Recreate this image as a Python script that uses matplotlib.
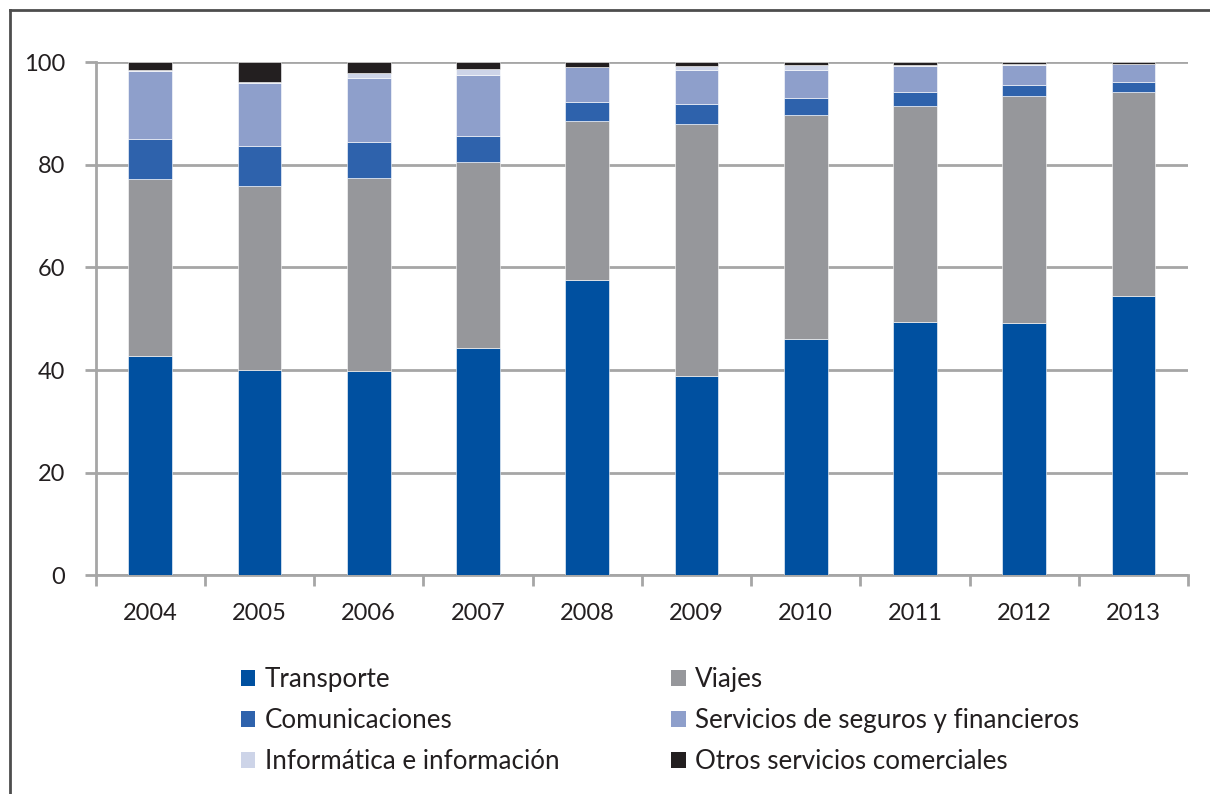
import matplotlib
matplotlib.use("Agg")
import matplotlib.pyplot as plt
from matplotlib.patches import Patch
from matplotlib.lines import Line2D
import numpy as np

years = ["2004", "2005", "2006", "2007", "2008", "2009", "2010", "2011", "2012", "2013"]

transporte = [42.8, 40.0, 39.9, 44.3, 57.6, 38.8, 46.1, 49.4, 49.1, 54.5]
viajes = [34.5, 35.9, 37.6, 36.3, 30.9, 49.2, 43.6, 42.1, 44.3, 39.7]
comunicaciones = [7.8, 7.8, 7.0, 5.0, 3.7, 3.9, 3.3, 2.7, 2.2, 1.9]
seguros_financieros = [13.1, 12.3, 12.4, 11.9, 6.8, 6.5, 5.4, 5.1, 3.9, 3.6]
informatica = [0.3, 0.2, 1.0, 1.1, 0.1, 0.9, 1.0, 0.1, 0.1, 0.0]
otros = [1.5, 3.8, 2.1, 1.4, 0.9, 0.7, 0.6, 0.6, 0.4, 0.3]

series = [
    ("Transporte", transporte, "#0050A0"),
    ("Viajes", viajes, "#96979B"),
    ("Comunicaciones", comunicaciones, "#2E62AC"),
    ("Servicios de seguros y financieros", seguros_financieros, "#8E9FCB"),
    ("Informática e información", informatica, "#CDD4E8"),
    ("Otros servicios comerciales", otros, "#231F20"),
]

FONT = "Lato"
TEXT = "#231F20"
GRID = "#A6A6A6"

fig = plt.figure(figsize=(12.10, 7.94), dpi=100)
ax = fig.add_axes([0.0791, 0.2753, 0.9027, 0.6466])

x = np.arange(len(years))
bottom = np.zeros(len(years))
for name, vals, color in series:
    vals = np.array(vals)
    ax.bar(x, vals, width=0.40, bottom=bottom, color=color,
           edgecolor="white", linewidth=0.4, zorder=3, label=name)
    bottom += vals

ax.set_xlim(-0.5, len(years) - 0.5)
ax.set_ylim(0, 100)
ax.set_yticks([0, 20, 40, 60, 80, 100])
ax.yaxis.grid(True, color=GRID, linewidth=2.0, zorder=0)
ax.set_axisbelow(True)

# category labels centred, tick marks on category boundaries
ax.set_xticks(x)
ax.set_xticklabels(years)
ax.set_xticks(np.arange(-0.5, len(years) + 0.5, 1.0), minor=True)
ax.tick_params(axis="x", which="major", length=0, pad=20,
               labelsize=17, labelcolor=TEXT)
ax.tick_params(axis="x", which="minor", length=8, width=2, color=GRID)
ax.tick_params(axis="y", length=8, width=2, color=GRID, pad=14,
               labelsize=17, labelcolor=TEXT)
for lab in ax.get_xticklabels() + ax.get_yticklabels():
    lab.set_fontfamily(FONT)

for side in ["top", "right"]:
    ax.spines[side].set_visible(False)
for side in ["left", "bottom"]:
    ax.spines[side].set_color(GRID)
    ax.spines[side].set_linewidth(2.0)

# legend laid out in two columns, row by row
handles = [Patch(facecolor=c, edgecolor="none") for _, _, c in series]
labels = [n for n, _, _ in series]
order = [0, 2, 4, 1, 3, 5]
fig.legend([handles[i] for i in order], [labels[i] for i in order],
           ncol=2, loc="upper left", bbox_to_anchor=(0.199, 0.160),
           frameon=False, prop={"family": FONT, "size": 18.7},
           handlelength=0.56, handleheight=0.56, handletextpad=0.36,
           labelspacing=0.62, columnspacing=4.3, labelcolor=TEXT,
           borderaxespad=0, borderpad=0)

# outer frame lines along the top and left edge
fig.add_artist(Line2D([10 / 1210, 1.0], [1 - 10 / 794, 1 - 10 / 794],
                      transform=fig.transFigure, color="#4D4D4D", linewidth=2))
fig.add_artist(Line2D([10 / 1210, 10 / 1210], [0.0, 1 - 10 / 794],
                      transform=fig.transFigure, color="#4D4D4D", linewidth=2))

fig.savefig("out.png", dpi=100, facecolor="white")
